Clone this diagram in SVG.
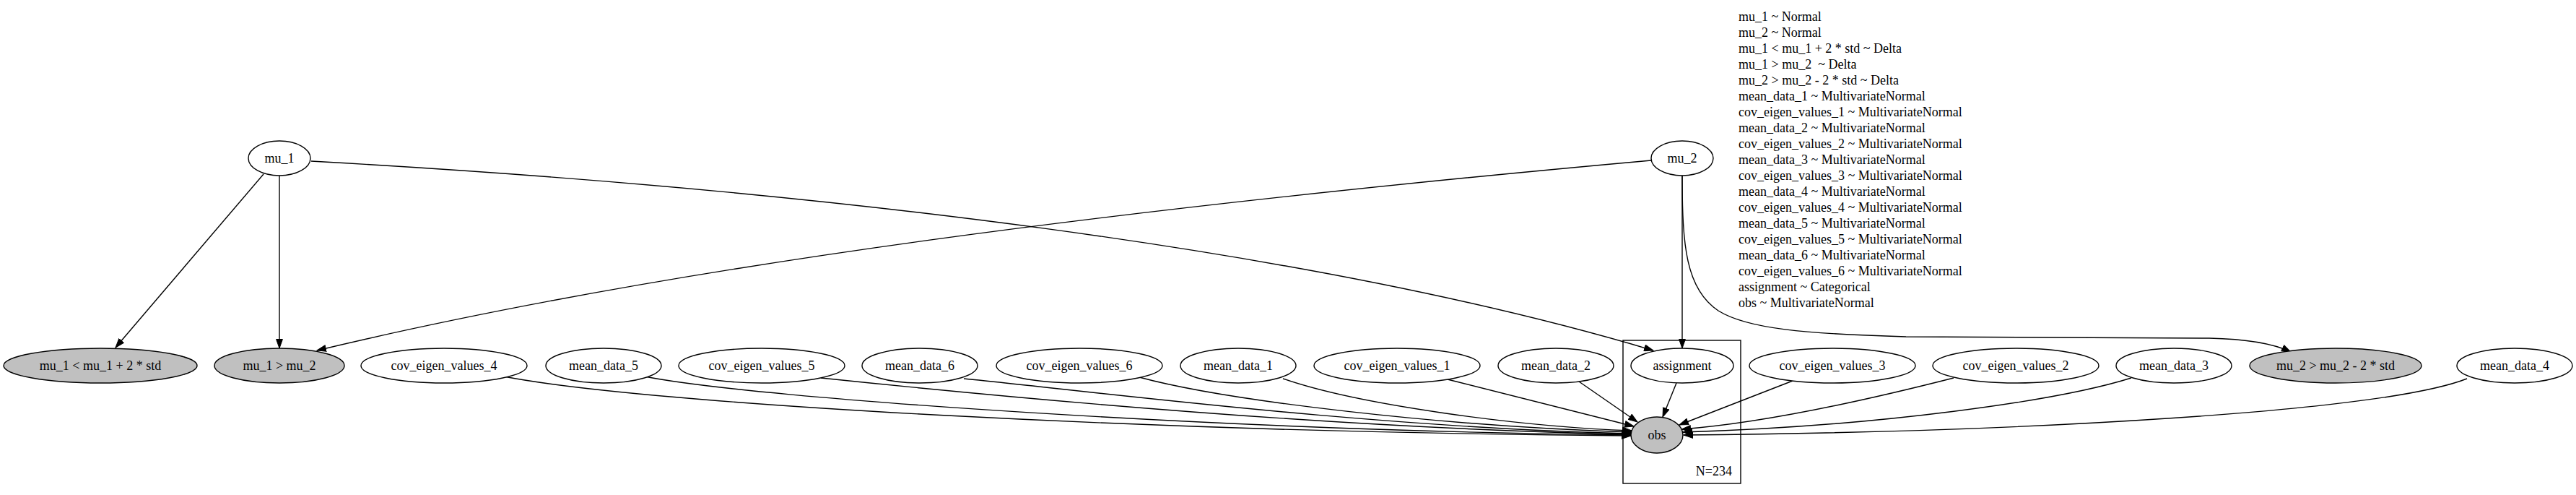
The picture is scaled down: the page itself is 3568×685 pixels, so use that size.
<svg xmlns="http://www.w3.org/2000/svg" width="3568" height="685" viewBox="0 0 3568 685">
<style>
text{font-family:"Liberation Serif","Times New Roman",serif;font-size:18px;fill:#000}
.n ellipse{fill:#fff;stroke:#000;stroke-width:1.4}
.n.obsd ellipse{fill:#c0c0c0}
.n text{text-anchor:middle}
.e path{fill:none;stroke:#000;stroke-width:1.4;marker-end:url(#ah)}
.plate{fill:none;stroke:#000;stroke-width:1.4}
</style>
<defs>
<marker id="ah" markerUnits="userSpaceOnUse" markerWidth="14" markerHeight="10" viewBox="0 0 14 10" refX="13" refY="5" orient="auto">
<path d="M0.5,0.6 L13,5 L0.5,9.4 Z" fill="#000" stroke="#000" stroke-width="1"/>
</marker>
</defs>
<rect width="3568" height="685" fill="#fff"/>
<g id="plate-N">
<rect class="plate" x="2248" y="471" width="163" height="198"/>
<text x="2399" y="658" text-anchor="end">N=234</text>
</g>
<g id="edges" class="e">
<path d="M365,241 L160,481"/>
<path d="M387,243 L387,482"/>
<path d="M431,223 C1131,262 1820,345 2290,485"/>
<path d="M2287,222 C1587,285 939,365 439,485"/>
<path d="M2330,243 L2330,482"/>
<path d="M2330,243 C2330,340 2335,400 2380,430 C2420,455 2500,462 2640,466 L3060,468 C3110,469 3150,476 3173,487"/>
<path d="M698,521 C900,560 1600,598 2259,603"/>
<path d="M893,521 C1050,552 1700,596 2259,602"/>
<path d="M1137,523 C1300,540 1800,592 2259,601"/>
<path d="M1335,524 C1500,540 1900,592 2259,600"/>
<path d="M1578,522 C1700,555 2000,590 2260,598"/>
<path d="M1777,524 C1880,560 2100,590 2260,596"/>
<path d="M2005,525 L2263,590"/>
<path d="M2187,528 L2268,584"/>
<path d="M2322,530 L2303,577"/>
<path d="M2483,527 L2326,588"/>
<path d="M2706,523 C2600,550 2450,585 2329,594"/>
<path d="M2952,523 C2850,555 2600,590 2331,598"/>
<path d="M3417,524 C3300,570 2800,598 2332,602"/>
</g>
<g id="mu_1" class="n"><ellipse cx="387" cy="219" rx="43" ry="24"/><text x="387" y="225">mu_1</text></g>
<g id="mu_2" class="n"><ellipse cx="2330" cy="219" rx="43" ry="24"/><text x="2330" y="225">mu_2</text></g>
<g id="mu_1_lt" class="n obsd"><ellipse cx="139" cy="506" rx="134" ry="24"/><text x="139" y="512">mu_1 &lt; mu_1 + 2 * std</text></g>
<g id="mu_1_gt_mu_2" class="n obsd"><ellipse cx="387" cy="506" rx="90" ry="24"/><text x="387" y="512">mu_1 &gt; mu_2</text></g>
<g id="cov_eigen_values_4" class="n"><ellipse cx="615" cy="506" rx="115" ry="24"/><text x="615" y="512">cov_eigen_values_4</text></g>
<g id="mean_data_5" class="n"><ellipse cx="836" cy="506" rx="80" ry="24"/><text x="836" y="512">mean_data_5</text></g>
<g id="cov_eigen_values_5" class="n"><ellipse cx="1055" cy="506" rx="115" ry="24"/><text x="1055" y="512">cov_eigen_values_5</text></g>
<g id="mean_data_6" class="n"><ellipse cx="1274" cy="506" rx="80" ry="24"/><text x="1274" y="512">mean_data_6</text></g>
<g id="cov_eigen_values_6" class="n"><ellipse cx="1495" cy="506" rx="115" ry="24"/><text x="1495" y="512">cov_eigen_values_6</text></g>
<g id="mean_data_1" class="n"><ellipse cx="1715" cy="506" rx="80" ry="24"/><text x="1715" y="512">mean_data_1</text></g>
<g id="cov_eigen_values_1" class="n"><ellipse cx="1935" cy="506" rx="115" ry="24"/><text x="1935" y="512">cov_eigen_values_1</text></g>
<g id="mean_data_2" class="n"><ellipse cx="2155" cy="506" rx="80" ry="24"/><text x="2155" y="512">mean_data_2</text></g>
<g id="assignment" class="n"><ellipse cx="2330" cy="506" rx="71" ry="24"/><text x="2330" y="512">assignment</text></g>
<g id="cov_eigen_values_3" class="n"><ellipse cx="2538" cy="506" rx="115" ry="24"/><text x="2538" y="512">cov_eigen_values_3</text></g>
<g id="cov_eigen_values_2" class="n"><ellipse cx="2792" cy="506" rx="115" ry="24"/><text x="2792" y="512">cov_eigen_values_2</text></g>
<g id="mean_data_3" class="n"><ellipse cx="3011" cy="506" rx="80" ry="24"/><text x="3011" y="512">mean_data_3</text></g>
<g id="mu_2_gt" class="n obsd"><ellipse cx="3235" cy="506" rx="119" ry="24"/><text x="3235" y="512">mu_2 &gt; mu_2 - 2 * std</text></g>
<g id="mean_data_4" class="n"><ellipse cx="3483" cy="506" rx="80" ry="24"/><text x="3483" y="512">mean_data_4</text></g>
<g id="obs" class="n obsd"><ellipse cx="2295" cy="602" rx="36" ry="25"/><text x="2295" y="608">obs</text></g>
<g id="legend">
<text x="2408" y="28.5">mu_1 ~ Normal</text>
<text x="2408" y="50.5">mu_2 ~ Normal</text>
<text x="2408" y="72.6">mu_1 &lt; mu_1 + 2 * std ~ Delta</text>
<text x="2408" y="94.6" xml:space="preserve">mu_1 &gt; mu_2  ~ Delta</text>
<text x="2408" y="116.7">mu_2 &gt; mu_2 - 2 * std ~ Delta</text>
<text x="2408" y="138.7">mean_data_1 ~ MultivariateNormal</text>
<text x="2408" y="160.8">cov_eigen_values_1 ~ MultivariateNormal</text>
<text x="2408" y="182.8">mean_data_2 ~ MultivariateNormal</text>
<text x="2408" y="204.9">cov_eigen_values_2 ~ MultivariateNormal</text>
<text x="2408" y="226.9">mean_data_3 ~ MultivariateNormal</text>
<text x="2408" y="249">cov_eigen_values_3 ~ MultivariateNormal</text>
<text x="2408" y="271">mean_data_4 ~ MultivariateNormal</text>
<text x="2408" y="293.1">cov_eigen_values_4 ~ MultivariateNormal</text>
<text x="2408" y="315.1">mean_data_5 ~ MultivariateNormal</text>
<text x="2408" y="337.2">cov_eigen_values_5 ~ MultivariateNormal</text>
<text x="2408" y="359.2">mean_data_6 ~ MultivariateNormal</text>
<text x="2408" y="381.3">cov_eigen_values_6 ~ MultivariateNormal</text>
<text x="2408" y="403.3">assignment ~ Categorical</text>
<text x="2408" y="425.4">obs ~ MultivariateNormal</text>
</g>
</svg>
